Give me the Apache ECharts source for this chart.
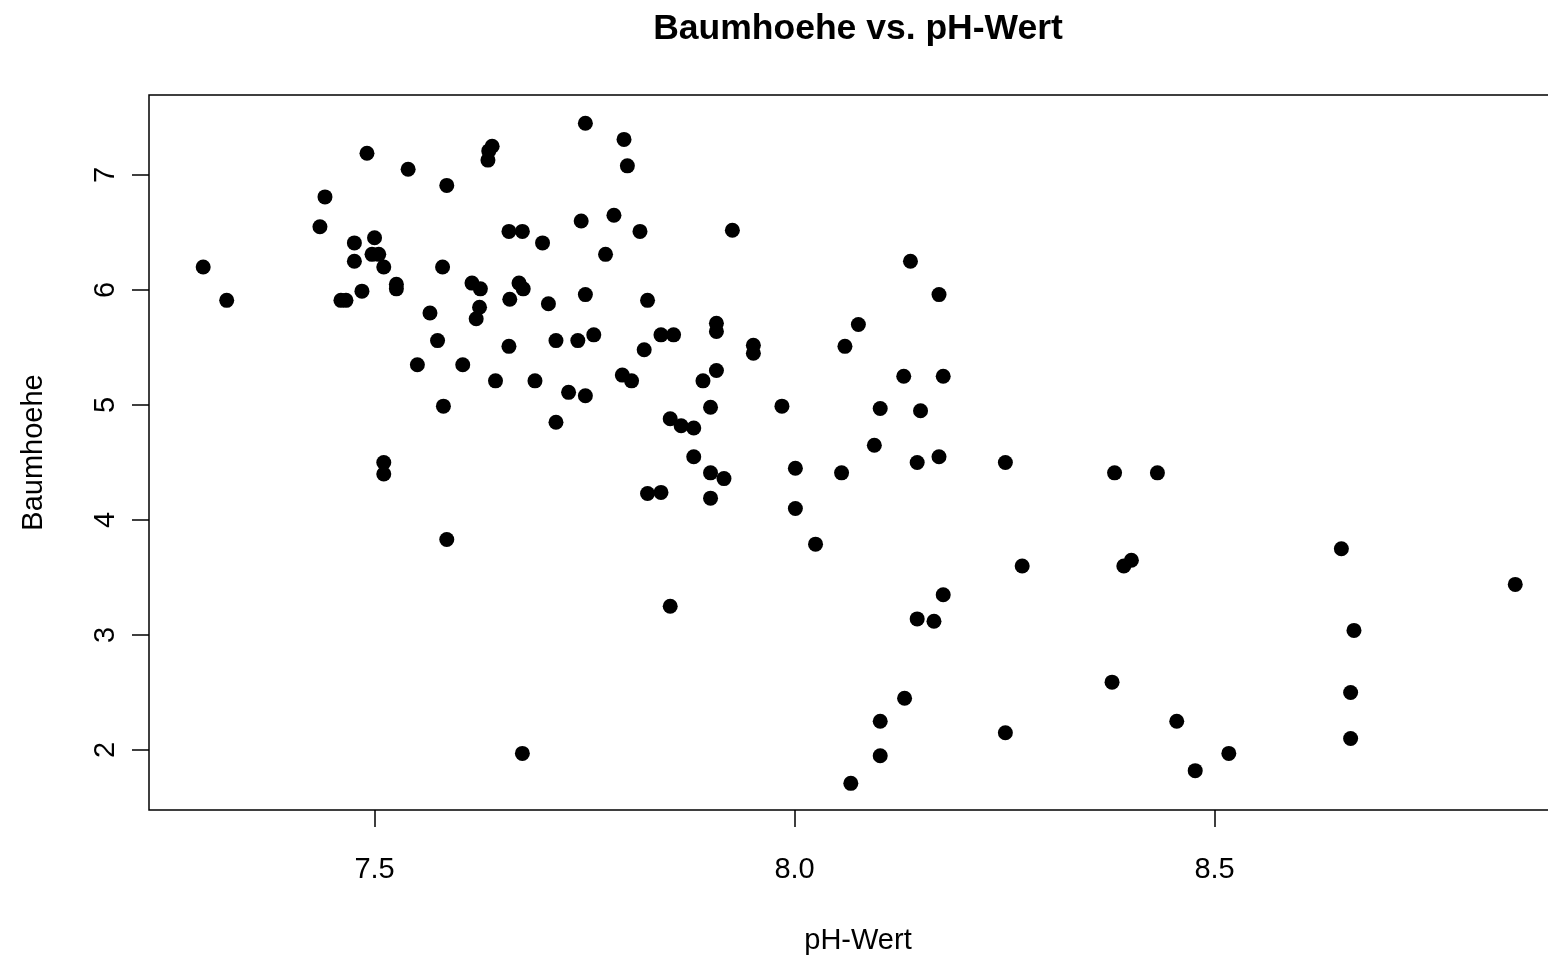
<!DOCTYPE html>
<html>
<head>
<meta charset="utf-8">
<title>Baumhoehe vs. pH-Wert</title>
<script src="https://cdn.jsdelivr.net/npm/echarts@6/dist/echarts.min.js"></script>
<style>
  html, body { margin: 0; padding: 0; background: #ffffff; overflow: hidden; }
  #chart { width: 1548px; height: 955px; }
</style>
</head>
<body>
<div id="chart"></div>
<script>
// Soil pH of each site (x) and the measured tree height (y)
const phWert = [
  7.491, 7.540, 7.586, 7.441, 7.640, 7.636, 7.635, 7.435, 7.476, 7.500,
  7.497, 7.505, 7.476, 7.511, 7.581, 7.296, 7.526, 7.526, 7.616, 7.626,
  7.324, 7.460, 7.466, 7.485, 7.625, 7.621, 7.566, 7.575, 7.551, 7.605,
  7.644, 7.582, 7.511, 7.511, 7.586,
  7.751, 7.797, 7.801, 7.746, 7.785, 7.660, 7.676, 7.816, 7.926, 7.700,
  7.775, 7.672, 7.677, 7.661, 7.707, 7.751, 7.825, 7.907, 7.907, 7.841,
  7.856, 7.660, 7.716, 7.742, 7.761, 7.821, 7.951, 7.951, 8.060, 7.691,
  7.795, 7.806, 7.731, 7.751, 7.891, 7.907, 7.900, 7.985, 7.716, 7.852,
  7.865, 7.880, 7.880, 7.900, 7.916, 7.825, 7.841, 7.900, 8.001, 8.056,
  8.001, 8.025, 7.852, 7.676, 8.067,
  8.138, 8.172, 8.076, 8.130, 8.177, 8.102, 8.150, 8.095, 8.146, 8.172,
  8.251, 8.381, 8.432, 8.271, 8.392, 8.401, 8.177, 8.146, 8.166, 8.378,
  8.131, 8.102, 8.455, 8.251, 8.102, 8.477,
  8.651, 8.858, 8.666, 8.662, 8.662, 8.517
];
const baumhoehe = [
  7.19, 7.05, 6.91, 6.81, 7.25, 7.21, 7.13, 6.55, 6.41, 6.455,
  6.31, 6.31, 6.25, 6.20, 6.20, 6.20, 6.05, 6.01, 6.06, 6.01,
  5.91, 5.91, 5.91, 5.99, 5.85, 5.75, 5.80, 5.56, 5.35, 5.35,
  5.21, 4.99, 4.50, 4.40, 3.83,
  7.45, 7.31, 7.08, 6.60, 6.65, 6.51, 6.51, 6.51, 6.52, 6.41,
  6.31, 6.06, 6.01, 5.92, 5.88, 5.96, 5.91, 5.71, 5.64, 5.61,
  5.61, 5.51, 5.56, 5.56, 5.61, 5.48, 5.52, 5.45, 5.51, 5.21,
  5.26, 5.21, 5.11, 5.08, 5.21, 5.30, 4.98, 4.99, 4.85, 4.88,
  4.82, 4.80, 4.55, 4.41, 4.36, 4.23, 4.24, 4.19, 4.45, 4.41,
  4.10, 3.79, 3.25, 1.97, 1.71,
  6.25, 5.96, 5.70, 5.25, 5.25, 4.97, 4.95, 4.65, 4.50, 4.55,
  4.50, 4.41, 4.41, 3.60, 3.60, 3.65, 3.35, 3.14, 3.12, 2.59,
  2.45, 2.25, 2.25, 2.15, 1.95, 1.82,
  3.75, 3.44, 3.04, 2.50, 2.10, 1.97
];

// Axis ticks
const xTickValues = [7.5, 8.0, 8.5];
const xTickLabels = ['7.5', '8.0', '8.5'];
const yTickValues = [2, 3, 4, 5, 6, 7];
const yTickLabels = ['2', '3', '4', '5', '6', '7'];

const points = phWert.map((x, i) => [x, baumhoehe[i]]);
const FONT = '"Liberation Sans", Arial, Helvetica, sans-serif';

// The plot box runs slightly past the right edge of the page
const GRID = { left: 149, top: 95, width: 1418, height: 715 };

const chart = echarts.init(document.getElementById('chart'), null, { renderer: 'canvas' });
chart.setOption({
  animation: false,
  backgroundColor: '#ffffff',
  graphic: [{
    type: 'text',
    x: GRID.left + GRID.width / 2,
    y: 29,
    style: {
      text: 'Baumhoehe vs. pH-Wert',
      font: 'bold 35.5px ' + FONT,
      fill: '#000000',
      align: 'center',
      verticalAlign: 'middle'
    }
  }],
  grid: {
    left: GRID.left, top: GRID.top, width: GRID.width, height: GRID.height,
    containLabel: false,
    outerBoundsMode: 'none',
    show: true,
    borderColor: '#000000',
    borderWidth: 1.5,
    backgroundColor: 'transparent'
  },
  xAxis: {
    type: 'value',
    min: 7.2315,
    max: 8.9196,
    name: 'pH-Wert',
    nameLocation: 'middle',
    nameGap: 116,
    nameTextStyle: { fontSize: 29, color: '#000000', fontFamily: FONT },
    axisLine: { show: false },
    splitLine: { show: false },
    axisTick: {
      show: true, length: 17,
      customValues: xTickValues,
      lineStyle: { color: '#000000', width: 1.5 }
    },
    axisLabel: {
      show: true, margin: 45,
      customValues: xTickValues,
      formatter: v => xTickLabels[xTickValues.indexOf(v)] ?? String(v),
      fontSize: 29, color: '#000000', fontFamily: FONT
    }
  },
  yAxis: {
    type: 'value',
    min: 1.478,
    max: 7.696,
    name: 'Baumhoehe',
    nameLocation: 'middle',
    nameGap: 101,
    nameRotate: 90,
    nameTextStyle: { fontSize: 29, color: '#000000', fontFamily: FONT },
    axisLine: { show: false },
    splitLine: { show: false },
    axisTick: {
      show: true, length: 17,
      customValues: yTickValues,
      lineStyle: { color: '#000000', width: 1.5 }
    },
    axisLabel: {
      show: true, margin: 29, rotate: 90,
      customValues: yTickValues,
      formatter: v => yTickLabels[yTickValues.indexOf(v)] ?? String(v),
      fontSize: 29, color: '#000000', fontFamily: FONT
    }
  },
  series: [{
    type: 'scatter',
    data: points,
    symbol: 'circle',
    symbolSize: 15,
    itemStyle: { color: '#000000', opacity: 1 },
    emphasis: { disabled: true }
  }]
});
</script>
</body>
</html>
